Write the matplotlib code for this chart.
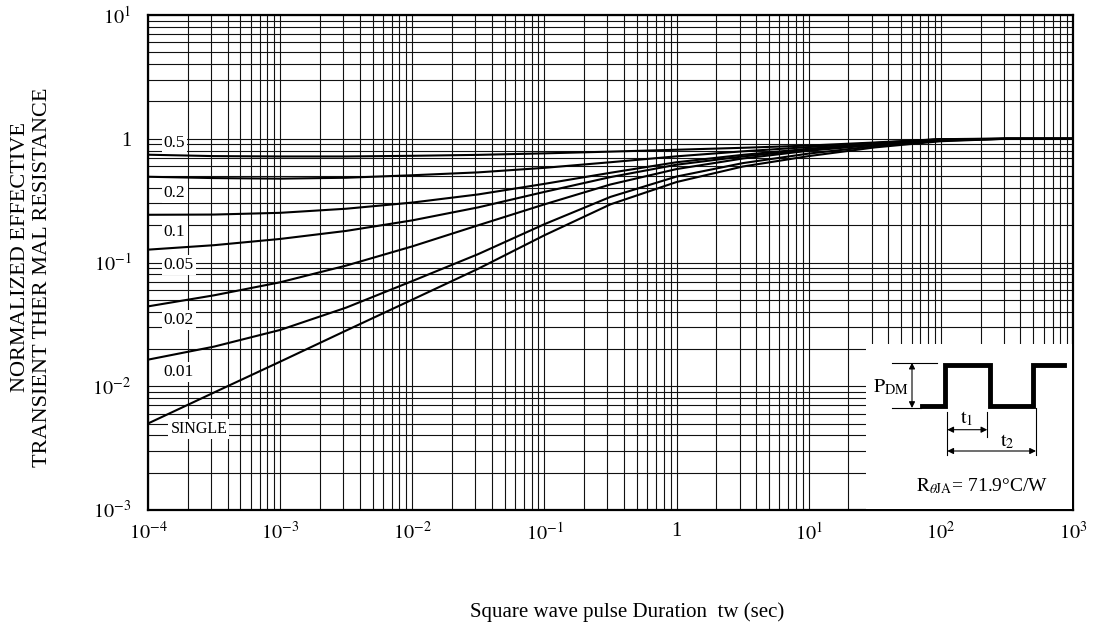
import numpy as np
import matplotlib
matplotlib.use("Agg")
import matplotlib.pyplot as plt
from matplotlib.ticker import FixedLocator, LogLocator, NullFormatter

plt.rcParams['font.family'] = ['Liberation Serif', 'DejaVu Serif']
plt.rcParams['mathtext.fontset'] = 'stix'

# pulse duration (s), read at half-decade steps
tw = [1e-4, 3.16e-4, 1e-3, 3.16e-3, 1e-2, 3.16e-2, 1e-1, 3.16e-1,
      1, 3.16, 10, 31.6, 100, 316, 1000]

# normalized effective transient thermal resistance per duty cycle
z_05 = [0.743, 0.724, 0.719, 0.719, 0.728, 0.741, 0.762, 0.787,
        0.815, 0.845, 0.881, 0.933, 0.993, 1.0, 1.0]
z_02 = [0.493, 0.481, 0.476, 0.484, 0.507, 0.535, 0.582, 0.646,
        0.721, 0.791, 0.857, 0.923, 0.993, 1.0, 1.0]
z_01 = [0.243, 0.244, 0.252, 0.272, 0.305, 0.355, 0.432, 0.531,
        0.646, 0.741, 0.830, 0.912, 0.989, 1.0, 1.0]
z_005 = [0.127, 0.138, 0.155, 0.180, 0.219, 0.279, 0.372, 0.490,
         0.617, 0.719, 0.815, 0.902, 0.982, 1.0, 1.0]
z_002 = [0.0442, 0.0543, 0.0692, 0.0944, 0.135, 0.200, 0.295, 0.427,
         0.569, 0.692, 0.800, 0.891, 0.977, 1.0, 1.0]
z_001 = [0.0164, 0.0209, 0.0285, 0.0432, 0.0708, 0.117, 0.204, 0.339,
         0.495, 0.635, 0.759, 0.871, 0.966, 1.0, 1.0]
z_single = [0.0050, 0.0089, 0.0158, 0.0282, 0.0501, 0.0891, 0.166, 0.295,
            0.447, 0.596, 0.724, 0.851, 0.955, 1.0, 1.0]

curves = [z_05, z_02, z_01, z_005, z_002, z_001, z_single]
labels = ['0.5', '0.2', '0.1', '0.05', '0.02', '0.01', 'SINGLE']
label_y = [0.93, 0.364, 0.178, 0.096, 0.0344, 0.013, 0.00454]

x_ticks = [1e-4, 1e-3, 1e-2, 1e-1, 1, 10, 100, 1000]
x_ticklabels = ['$10^{-4}$', '$10^{-3}$', '$10^{-2}$', '$10^{-1}$', '1',
                '$10^{1}$', '$10^{2}$', '$10^{3}$']
y_ticks = [1e-3, 1e-2, 1e-1, 1, 10]
y_ticklabels = ['$10^{-3}$', '$10^{-2}$', '$10^{-1}$', '1', '$10^{1}$']

W, H = 1093, 630
fig = plt.figure(figsize=(W / 100, H / 100), dpi=100)
ax = fig.add_axes([148 / W, 1 - 510 / H, (1073 - 148) / W, (510 - 15) / H])

ax.set_xscale('log')
ax.set_yscale('log')
ax.set_xlim(1e-4, 1e3)
ax.set_ylim(1e-3, 10)

ax.xaxis.set_major_locator(FixedLocator(x_ticks))
ax.set_xticklabels(x_ticklabels, fontsize=14.5)
ax.yaxis.set_major_locator(FixedLocator(y_ticks))
ax.set_yticklabels(y_ticklabels, fontsize=14.5)
for a in (ax.xaxis, ax.yaxis):
    a.set_minor_locator(LogLocator(base=10, subs=np.arange(2, 10), numticks=100))
    a.set_minor_formatter(NullFormatter())
ax.tick_params(which='both', length=0)
ax.tick_params(axis='x', pad=9)
ax.tick_params(axis='y', pad=12)

ax.set_axisbelow(True)
ax.grid(True, which='both', color='#111111', linewidth=0.8)
for s in ax.spines.values():
    s.set_linewidth(1.6)

for z in curves:
    ax.plot(tw, z, color='black', linewidth=1.5, zorder=3)

for lab, ly in zip(labels, label_y):
    lx = 10 ** -3.83 if lab == 'SINGLE' else 10 ** -3.88
    ax.text(lx, ly, lab, fontsize=12.5 if lab != 'SINGLE' else 11.5,
            ha='left', va='center', zorder=4,
            bbox=dict(facecolor='white', edgecolor='none', pad=1.5))

fig.text(21 / W, 1 - 257 / H, 'NORMALIZED EFFECTIVE', rotation=90,
         ha='center', va='center', fontsize=16)
fig.text(43 / W, 1 - 277 / H, 'TRANSIENT THER MAL RESISTANCE', rotation=90,
         ha='center', va='center', fontsize=16)
fig.text(627 / W, 1 - 612 / H, 'Square wave pulse Duration  tw (sec)',
         ha='center', va='center', fontsize=15)

# inset with pulse diagram, drawn in figure pixel units
ins = fig.add_axes([866 / W, 1 - 509 / H, (1072 - 866) / W, (509 - 344) / H])
ins.set_xlim(866, 1072)
ins.set_ylim(509, 344)
ins.set_facecolor('white')
ins.set_xticks([])
ins.set_yticks([])
for s in ins.spines.values():
    s.set_visible(False)

ins.plot([921.7, 945, 945, 990, 990, 1033, 1033, 1064],
         [405.7, 405.7, 365, 365, 405.7, 405.7, 365, 365],
         color='black', linewidth=3.5, solid_joinstyle='miter')
thin = dict(color='black', linewidth=0.8)
ins.plot([892, 937], [362.7, 362.7], **thin)
ins.plot([892, 921], [408, 408], **thin)
ins.plot([947.3, 947.3], [412, 455], **thin)
ins.plot([987.3, 987.3], [412, 437], **thin)
ins.plot([1036, 1036], [408, 455], **thin)
arr = dict(arrowstyle='<|-|>', color='black', linewidth=0.8,
           mutation_scale=9, shrinkA=0, shrinkB=0)
ins.annotate('', xy=(912, 362.7), xytext=(912, 408), arrowprops=arr)
ins.annotate('', xy=(947.3, 429.7), xytext=(987.3, 429.7), arrowprops=arr)
ins.annotate('', xy=(947.3, 451), xytext=(1036, 451), arrowprops=arr)

ins.text(873, 387, r'$\mathrm{P}_{\mathrm{DM}}$', fontsize=14.5,
         ha='left', va='center')
ins.text(967, 419, r'$\mathrm{t}_{1}$', fontsize=14.5, ha='center', va='center')
ins.text(1007, 442, r'$\mathrm{t}_{2}$', fontsize=14.5, ha='center', va='center')
ins.text(982, 486, r'$\mathrm{R}_{\theta\mathrm{JA}}$= 71.9°C/W', fontsize=14,
         ha='center', va='center')

fig.savefig('out.png', dpi=100)
